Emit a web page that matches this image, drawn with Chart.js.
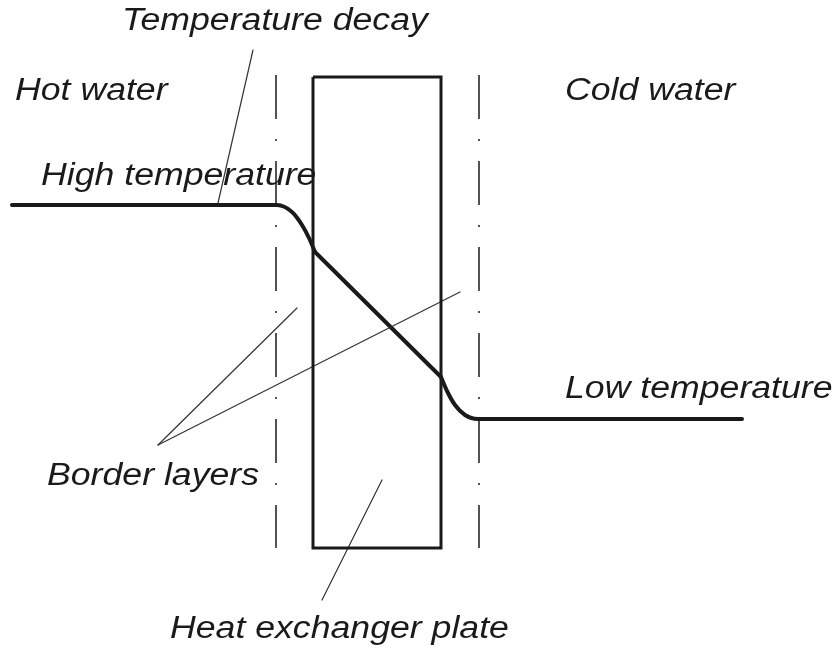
<!DOCTYPE html>
<html>
<head>
<meta charset="utf-8">
<script src="https://cdn.jsdelivr.net/npm/chart.js@4/dist/chart.umd.min.js"></script>
<style>
html,body{margin:0;padding:0;background:#fff;}
#wrap{width:840px;height:650px;}
</style>
</head>
<body>
<div id="wrap"><canvas id="c" width="840" height="650"></canvas></div>
<script>
// Temperature profile (diagram units: x across, y down)
const hotSideX = [12, 277, 292, 302, 309, 315];
const hotSideY = [205, 205, 212, 225, 238, 252];
const plateDropX = [315, 441];
const plateDropY = [252, 377];
const coldSideX = [441, 447, 455, 465, 478, 742];
const coldSideY = [377, 391, 405, 415, 419, 419];

// Heat exchanger plate outline
const plateX = [313, 441, 441, 313, 313];
const plateY = [77, 77, 548, 548, 77];

// Border-layer limits (dash-dot)
const borderLeftX = [276, 276];
const borderRightX = [479, 479];
const borderY = [75, 548];

// Leader lines
const leaderDecayX = [253, 218];
const leaderDecayY = [50, 203];
const leaderBorder1X = [158, 297];
const leaderBorder1Y = [445, 308];
const leaderBorder2X = [158, 460];
const leaderBorder2Y = [445, 292];
const leaderPlateX = [382, 322];
const leaderPlateY = [480, 600];

// Labels
const labelTexts = ["Temperature decay", "Hot water", "Cold water", "High temperature", "Low temperature", "Border layers", "Heat exchanger plate"];
const labelX = [122, 15, 565, 41, 565, 47, 170];
const labelY = [30, 100, 100, 185, 398, 485, 638];

function pts(xs, ys) { return xs.map((x, i) => ({x: x, y: ys[i]})); }

const ink = '#1a1a1a';
function lineDs(xs, ys, opts) {
  return Object.assign({
    data: pts(xs, ys), showLine: true, pointRadius: 0, borderColor: ink,
    borderWidth: 1.2, tension: 0, fill: false, borderCapStyle: 'round', borderJoinStyle: 'round'
  }, opts || {});
}

const textPlugin = {
  id: 'diagramText',
  afterDatasetsDraw(chart) {
    const ctx = chart.ctx, sx = chart.scales.x, sy = chart.scales.y;
    ctx.save();
    ctx.fillStyle = '#1a1a1a';
    ctx.font = 'italic 31px "Liberation Sans", Arial, sans-serif';
    ctx.textBaseline = 'alphabetic';
    ctx.textAlign = 'left';
    labelTexts.forEach((t, i) => {
      ctx.save();
      ctx.translate(sx.getPixelForValue(labelX[i]), sy.getPixelForValue(labelY[i]));
      ctx.scale(1.15, 1);
      ctx.fillText(t, 0, 0);
      ctx.restore();
    });
    ctx.restore();
  }
};

new Chart(document.getElementById('c'), {
  type: 'scatter',
  data: {
    datasets: [
      lineDs(plateX, plateY, {borderWidth: 3, borderJoinStyle: 'miter', borderCapStyle: 'butt'}),
      lineDs(borderLeftX, borderY, {borderWidth: 1.5, borderDash: [44, 20, 2, 20], borderCapStyle: 'butt'}),
      lineDs(borderRightX, borderY, {borderWidth: 1.5, borderDash: [44, 20, 2, 20], borderCapStyle: 'butt'}),
      lineDs(leaderDecayX, leaderDecayY, {borderColor: '#333'}),
      lineDs(leaderBorder1X, leaderBorder1Y, {borderColor: '#333'}),
      lineDs(leaderBorder2X, leaderBorder2Y, {borderColor: '#333'}),
      lineDs(leaderPlateX, leaderPlateY, {borderColor: '#333'}),
      lineDs(hotSideX, hotSideY, {borderWidth: 4, cubicInterpolationMode: 'monotone'}),
      lineDs(plateDropX, plateDropY, {borderWidth: 4}),
      lineDs(coldSideX, coldSideY, {borderWidth: 4, cubicInterpolationMode: 'monotone'})
    ]
  },
  options: {
    responsive: false,
    animation: false,
    layout: {padding: 0},
    plugins: {legend: {display: false}, tooltip: {enabled: false}},
    scales: {
      x: {type: 'linear', min: 0, max: 840, display: false},
      y: {type: 'linear', min: 0, max: 650, reverse: true, display: false}
    }
  },
  plugins: [textPlugin]
});
</script>
</body>
</html>
